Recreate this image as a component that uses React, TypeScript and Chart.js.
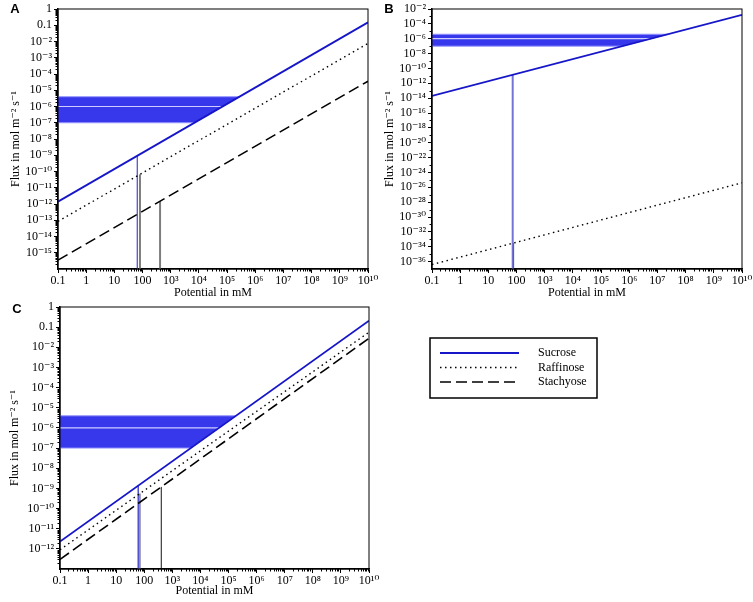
import React, { useEffect, useRef } from 'react';
import { Chart, registerables } from 'chart.js';

Chart.register(...registerables);
Chart.defaults.font.family = "'Liberation Serif', 'Times New Roman', 'DejaVu Serif', serif";
Chart.defaults.color = '#000';

// ---------- shared axis data ----------
const potentialRange = [0.1, 1e10];
const xTickValues = [0.1, 1, 10, 100, 1e3, 1e4, 1e5, 1e6, 1e7, 1e8, 1e9, 1e10];
const xTickLabels = ['0.1', '1', '10', '100', '10³', '10⁴', '10⁵', '10⁶', '10⁷', '10⁸', '10⁹', '10¹⁰'];

// required phloem flux band: low, typical, high
const phloemFlux = [1e-7, 1e-6, 4e-6];

// ---------- panel A ----------
const fluxRangeA = [1e-16, 1];
const yTickValuesA = [1, 0.1, 1e-2, 1e-3, 1e-4, 1e-5, 1e-6, 1e-7, 1e-8, 1e-9, 1e-10, 1e-11, 1e-12, 1e-13, 1e-14, 1e-15];
const yTickLabelsA = ['1', '0.1', '10⁻²', '10⁻³', '10⁻⁴', '10⁻⁵', '10⁻⁶', '10⁻⁷', '10⁻⁸', '10⁻⁹', '10⁻¹⁰', '10⁻¹¹', '10⁻¹²', '10⁻¹³', '10⁻¹⁴', '10⁻¹⁵'];
const sucroseA = [1.4e-12, 0.15];
const raffinoseA = [8.5e-14, 7.6e-3];
const stachyoseA = [3.5e-16, 3.6e-5];
const dropPotentialsA = [65, 81, 418];

// ---------- panel B ----------
const fluxRangeB = [1e-37, 1e-2];
const yTickValuesB = [1e-2, 1e-4, 1e-6, 1e-8, 1e-10, 1e-12, 1e-14, 1e-16, 1e-18, 1e-20, 1e-22, 1e-24, 1e-26, 1e-28, 1e-30, 1e-32, 1e-34, 1e-36];
const yTickLabelsB = ['10⁻²', '10⁻⁴', '10⁻⁶', '10⁻⁸', '10⁻¹⁰', '10⁻¹²', '10⁻¹⁴', '10⁻¹⁶', '10⁻¹⁸', '10⁻²⁰', '10⁻²²', '10⁻²⁴', '10⁻²⁶', '10⁻²⁸', '10⁻³⁰', '10⁻³²', '10⁻³⁴', '10⁻³⁶'];
const sucroseB = [2e-14, 1.6e-3];
const raffinoseB = [4e-37, 4e-26];
const dropPotentialsB = [73, 77];

// ---------- panel C ----------
const fluxRangeC = [1e-13, 1];
const yTickValuesC = [1, 0.1, 1e-2, 1e-3, 1e-4, 1e-5, 1e-6, 1e-7, 1e-8, 1e-9, 1e-10, 1e-11, 1e-12];
const yTickLabelsC = ['1', '0.1', '10⁻²', '10⁻³', '10⁻⁴', '10⁻⁵', '10⁻⁶', '10⁻⁷', '10⁻⁸', '10⁻⁹', '10⁻¹⁰', '10⁻¹¹', '10⁻¹²'];
const sucroseC = [2.3e-12, 0.21];
const raffinoseC = [9e-13, 5.6e-2];
const stachyoseC = [3e-13, 2.8e-2];
const dropPotentialsC = [61, 70, 403];

// ---------- styles ----------
const SERIES_STYLE: any = {
  Sucrose: { borderColor: 'rgb(22,22,200)', borderWidth: 1.8, borderDash: [] },
  Raffinose: { borderColor: '#000', borderWidth: 1.4, borderDash: [1.5, 3.5] },
  Stachyose: { borderColor: '#000', borderWidth: 1.6, borderDash: [11, 5] },
};
const BAND_FILL = 'rgb(55,55,235)';
const BAND_EDGE = 'rgb(150,150,255)';
const BAND_MID = 'rgb(205,205,255)';

// ---------- helpers (log-log interpolation along a two-point line) ----------
function fluxAtPotential(ys: number[], x: number) {
  const lx0 = Math.log10(potentialRange[0]);
  const lx1 = Math.log10(potentialRange[1]);
  const ly0 = Math.log10(ys[0]);
  const ly1 = Math.log10(ys[1]);
  const t = (Math.log10(x) - lx0) / (lx1 - lx0);
  return Math.pow(10, ly0 + t * (ly1 - ly0));
}
function potentialAtFlux(ys: number[], f: number) {
  const lx0 = Math.log10(potentialRange[0]);
  const lx1 = Math.log10(potentialRange[1]);
  const ly0 = Math.log10(ys[0]);
  const ly1 = Math.log10(ys[1]);
  const t = (Math.log10(f) - ly0) / (ly1 - ly0);
  return Math.pow(10, lx0 + t * (lx1 - lx0));
}
function decadeMinors(minExp: number, maxExp: number) {
  const out: number[] = [];
  for (let n = minExp; n < maxExp; n++) for (let k = 2; k <= 9; k++) out.push(k * Math.pow(10, n));
  return out;
}
function oddDecades(minExp: number, maxExp: number) {
  const out: number[] = [];
  for (let n = minExp; n <= maxExp; n++) if (Math.abs(n) % 2 === 1) out.push(Math.pow(10, n));
  return out;
}

// ---------- panel specs ----------
const panels: any[] = [
  {
    key: 'A', left: 0, top: 0, width: 380, height: 300,
    padding: { left: 0, top: 9, right: 12, bottom: 0 }, yWidth: 58, xHeight: 31, yTitlePad: 9, xTitlePad: 0,
    letter: { text: 'A', x: 15, y: 9 },
    fluxRange: fluxRangeA, yTicks: yTickValuesA, yLabels: yTickLabelsA, minorY: decadeMinors(-16, 0),
    curves: [{ label: 'Sucrose', ys: sucroseA }, { label: 'Raffinose', ys: raffinoseA }, { label: 'Stachyose', ys: stachyoseA }],
    drops: [
      { x: dropPotentialsA[0], ys: sucroseA, color: 'rgb(70,70,210)', width: 1.2 },
      { x: dropPotentialsA[1], ys: raffinoseA, color: 'rgb(125,125,125)', width: 2 },
      { x: dropPotentialsA[2], ys: stachyoseA, color: 'rgb(125,125,125)', width: 2 },
    ],
  },
  {
    key: 'B', left: 376, top: 0, width: 377, height: 300,
    padding: { left: 0, top: 9, right: 11, bottom: 0 }, yWidth: 56, xHeight: 31, yTitlePad: 7, xTitlePad: 0,
    letter: { text: 'B', x: 13, y: 9 },
    fluxRange: fluxRangeB, yTicks: yTickValuesB, yLabels: yTickLabelsB, minorY: oddDecades(-35, -3),
    curves: [{ label: 'Sucrose', ys: sucroseB }, { label: 'Raffinose', ys: raffinoseB }],
    drops: [
      { x: dropPotentialsB[0], ys: sucroseB, color: 'rgb(115,115,215)', width: 2 },
      { x: dropPotentialsB[1], ys: raffinoseB, color: 'rgb(40,40,110)', width: 1.5 },
    ],
  },
  {
    key: 'C', left: 0, top: 300, width: 753, height: 302,
    padding: { left: 0, top: 7, right: 384, bottom: 0 }, yWidth: 60, xHeight: 33, yTitlePad: 8, xTitlePad: 4,
    letter: { text: 'C', x: 17, y: 9 },
    legendBox: { x: 430, y: 38, w: 167, h: 60, lineX0: 440, lineX1: 519, textX: 538, rowY0: 53, rowStep: 14.5 },
    fluxRange: fluxRangeC, yTicks: yTickValuesC, yLabels: yTickLabelsC, minorY: decadeMinors(-13, 0),
    curves: [{ label: 'Sucrose', ys: sucroseC }, { label: 'Raffinose', ys: raffinoseC }, { label: 'Stachyose', ys: stachyoseC }],
    drops: [
      { x: dropPotentialsC[0], ys: sucroseC, color: 'rgb(80,80,205)', width: 1.5 },
      { x: dropPotentialsC[1], ys: raffinoseC, color: 'rgb(120,120,160)', width: 1.5 },
      { x: dropPotentialsC[2], ys: stachyoseC, color: 'rgb(20,20,20)', width: 1 },
    ],
  },
];

const minorX = decadeMinors(-1, 10);

function makeDecor(spec: any) {
  return {
    id: 'panelDecor' + spec.key,
    afterDraw(chart: any) {
      const { ctx, chartArea: ca, scales } = chart;
      ctx.save();
      ctx.strokeStyle = '#000';
      ctx.lineWidth = 1;
      ctx.strokeRect(ca.left, ca.top, ca.right - ca.left, ca.bottom - ca.top);
      ctx.beginPath();
      for (const v of spec.minorY) {
        const y = Math.round(scales.y.getPixelForValue(v)) + 0.5;
        if (y > ca.top && y < ca.bottom) {
          ctx.moveTo(ca.left - 2.5, y);
          ctx.lineTo(ca.left, y);
        }
      }
      for (const v of minorX) {
        const x = Math.round(scales.x.getPixelForValue(v)) + 0.5;
        if (x > ca.left && x < ca.right) {
          ctx.moveTo(x, ca.bottom);
          ctx.lineTo(x, ca.bottom + 2.5);
        }
      }
      ctx.stroke();
      ctx.fillStyle = '#000';
      ctx.font = 'bold 13px "Liberation Sans", Arial, sans-serif';
      ctx.textAlign = 'center';
      ctx.textBaseline = 'middle';
      ctx.fillText(spec.letter.text, spec.letter.x, spec.letter.y);
      if (spec.legendBox) {
        const lb = spec.legendBox;
        ctx.lineWidth = 1.5;
        ctx.strokeStyle = '#000';
        ctx.strokeRect(lb.x, lb.y, lb.w, lb.h);
        const items = chart.data.datasets.filter((d: any) => d.isSeries);
        items.forEach((d: any, i: number) => {
          const y = lb.rowY0 + i * lb.rowStep;
          ctx.save();
          ctx.strokeStyle = d.borderColor;
          ctx.lineWidth = d.borderWidth;
          ctx.setLineDash(d.borderDash || []);
          ctx.beginPath();
          ctx.moveTo(lb.lineX0, y);
          ctx.lineTo(lb.lineX1, y);
          ctx.stroke();
          ctx.restore();
          ctx.fillStyle = '#000';
          ctx.font = "12px 'Liberation Serif', 'Times New Roman', serif";
          ctx.textAlign = 'left';
          ctx.textBaseline = 'middle';
          ctx.fillText(d.label, lb.textX, y);
        });
      }
      ctx.restore();
    },
  };
}

function zeroPad(s: any) {
  s.paddingLeft = 0;
  s.paddingRight = 0;
  s.paddingTop = 0;
  s.paddingBottom = 0;
}

function buildConfig(spec: any): any {
  const datasets: any[] = [];
  const main = spec.curves[0].ys;
  const xHi = potentialAtFlux(main, phloemFlux[2]);
  const xMid = potentialAtFlux(main, phloemFlux[1]);
  const xLo = potentialAtFlux(main, phloemFlux[0]);
  datasets.push({
    label: 'Required flux',
    data: [
      { x: potentialRange[0], y: phloemFlux[2] },
      { x: xHi, y: phloemFlux[2] },
      { x: xLo, y: phloemFlux[0] },
      { x: potentialRange[0], y: phloemFlux[0] },
    ],
    fill: 'shape', backgroundColor: BAND_FILL, borderColor: BAND_EDGE, borderWidth: 1,
    pointRadius: 0, tension: 0, order: 10,
  });
  datasets.push({
    label: 'Typical flux',
    data: [{ x: potentialRange[0], y: phloemFlux[1] }, { x: xMid, y: phloemFlux[1] }],
    borderColor: BAND_MID, borderWidth: 1.2, pointRadius: 0, fill: false, order: 9,
  });
  spec.drops.forEach((d: any, i: number) => {
    datasets.push({
      label: 'drop' + i,
      data: [{ x: d.x, y: spec.fluxRange[0] }, { x: d.x, y: fluxAtPotential(d.ys, d.x) }],
      borderColor: d.color, borderWidth: d.width, pointRadius: 0, fill: false, order: 5,
    });
  });
  spec.curves.forEach((c: any) => {
    datasets.push({
      label: c.label, isSeries: true,
      data: potentialRange.map((x, i) => ({ x, y: c.ys[i] })),
      ...SERIES_STYLE[c.label],
      pointRadius: 0, fill: false, tension: 0, order: 1,
    });
  });

  return {
    type: 'line',
    data: { datasets },
    plugins: [makeDecor(spec)],
    options: {
      animation: false,
      responsive: false,
      devicePixelRatio: 1,
      layout: { padding: spec.padding, autoPadding: false },
      plugins: { legend: { display: false }, tooltip: { enabled: false } },
      scales: {
        x: {
          type: 'logarithmic',
          min: potentialRange[0],
          max: potentialRange[1],
          afterBuildTicks: (s: any) => { s.ticks = xTickValues.map((v) => ({ value: v })); },
          afterFit: (s: any) => { s.height = spec.xHeight; zeroPad(s); },
          ticks: {
            callback: (_v: any, i: number) => xTickLabels[i],
            autoSkip: false, maxRotation: 0, minRotation: 0, padding: 1, color: '#000',
            font: { size: 12 },
          },
          grid: { display: true, drawOnChartArea: false, drawTicks: true, tickLength: 4, color: '#000', lineWidth: 1 },
          border: { display: true, color: '#000', width: 1.5 },
          title: { display: true, text: 'Potential in mM', color: '#000', font: { size: 12 }, padding: { top: 0, bottom: spec.xTitlePad } },
        },
        y: {
          type: 'logarithmic',
          min: spec.fluxRange[0],
          max: spec.fluxRange[1],
          afterBuildTicks: (s: any) => { s.ticks = spec.yTicks.map((v: number) => ({ value: v })); },
          afterFit: (s: any) => { s.width = spec.yWidth; zeroPad(s); },
          ticks: {
            callback: (_v: any, i: number) => spec.yLabels[i],
            autoSkip: false, padding: 2, color: '#000',
            font: { size: 12 },
          },
          grid: { display: true, drawOnChartArea: false, drawTicks: true, tickLength: 4, color: '#000', lineWidth: 1 },
          border: { display: true, color: '#000', width: 1.5 },
          title: { display: true, text: 'Flux in mol m⁻² s⁻¹', color: '#000', font: { size: 12 }, padding: { top: spec.yTitlePad, bottom: 0 } },
        },
      },
    },
  };
}

function Panel({ spec }: { spec: any }) {
  const ref = useRef<HTMLCanvasElement>(null);
  useEffect(() => {
    const chart = new Chart(ref.current as HTMLCanvasElement, buildConfig(spec));
    return () => chart.destroy();
  }, [spec]);
  return (
    <canvas
      ref={ref}
      width={spec.width}
      height={spec.height}
      style={{ position: 'absolute', left: spec.left, top: spec.top, width: spec.width, height: spec.height }}
    />
  );
}

export default function App() {
  return (
    <div style={{ position: 'absolute', left: 0, top: 0, width: 753, height: 602, background: '#fff', overflow: 'hidden' }}>
      {panels.map((p) => (
        <Panel key={p.key} spec={p} />
      ))}
    </div>
  );
}
